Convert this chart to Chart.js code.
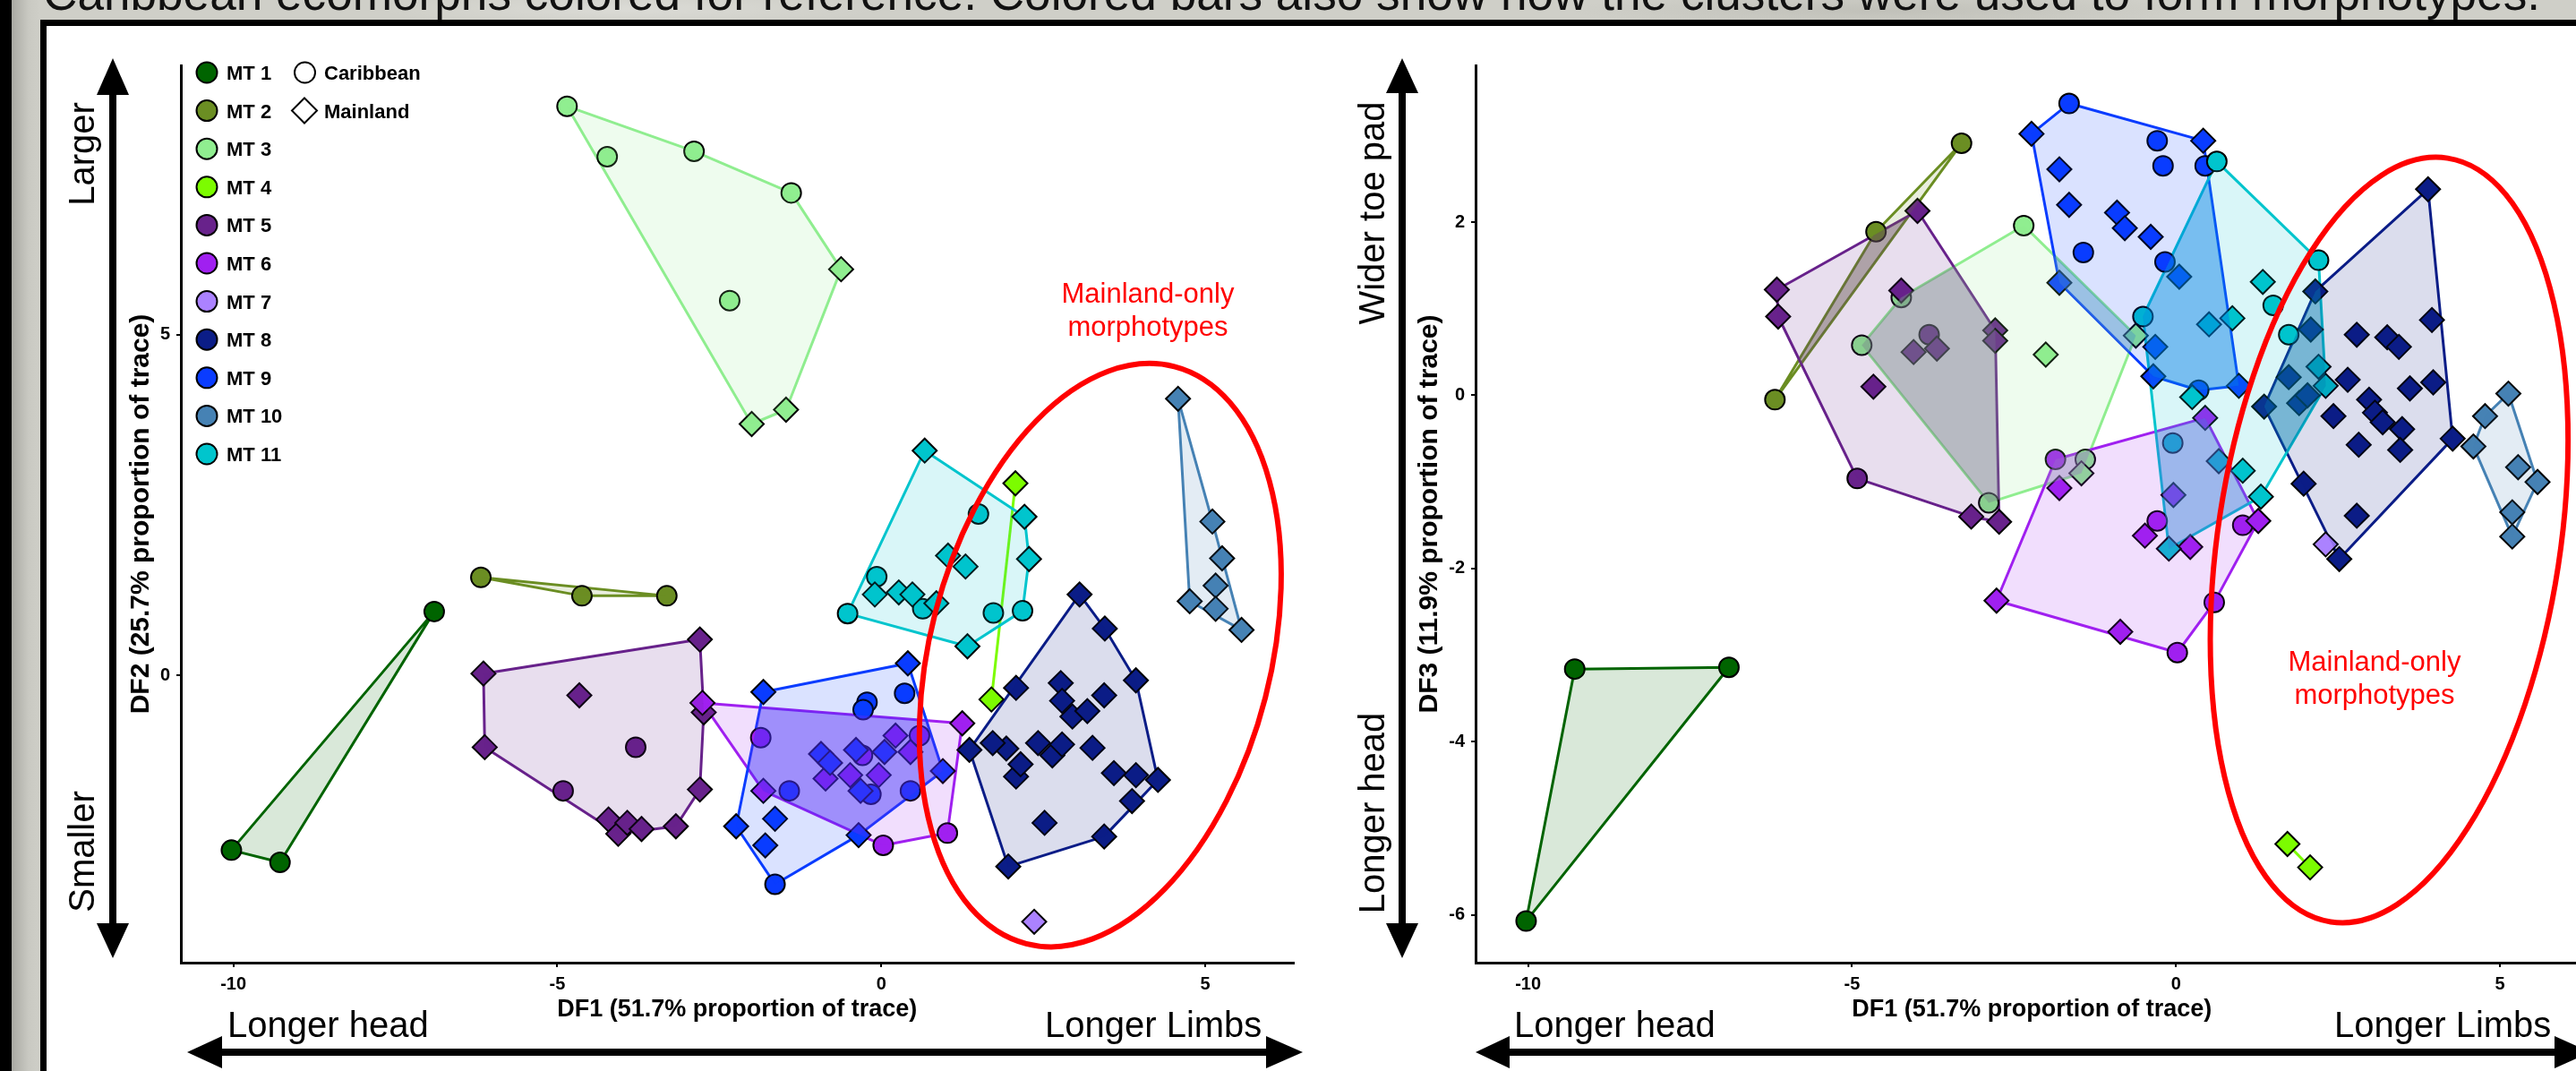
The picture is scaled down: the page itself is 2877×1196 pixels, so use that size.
<!DOCTYPE html>
<html>
<head>
<meta charset="utf-8">
<title>Morphotype discriminant function space</title>
<script src="https://cdn.jsdelivr.net/npm/chart.js@4.4.1/dist/chart.umd.min.js"></script>
<style>
  html, body { margin: 0; padding: 0; }
  body {
    width: 2877px; height: 1196px; overflow: hidden; position: relative;
    background:
      radial-gradient(ellipse 400px 30px at 700px 10px, rgba(255,255,255,0.25), rgba(255,255,255,0) 70%),
      radial-gradient(ellipse 500px 30px at 2100px 12px, rgba(90,90,80,0.12), rgba(90,90,80,0) 70%),
      linear-gradient(90deg, #000 0, #000 13px, #a9a9a3 13px, #c9c9c2 32px, #cfcfc8 45px);
    font-family: 'Liberation Sans', Arial, sans-serif;
  }
  #panel {
    position: absolute; left: 45px; top: 22px; width: 2850px; height: 1190px;
    background: #fff; border-left: 7px solid #000; border-top: 7px solid #000;
  }
  canvas { position: absolute; }
  #overlay { position: absolute; left: 0; top: 0; pointer-events: none; }
</style>
</head>
<body>
<div id="panel"></div>
<canvas id="df2Chart" width="1360" height="1120" style="left:100px;top:40px"></canvas>
<canvas id="df3Chart" width="1366" height="1120" style="left:1540px;top:40px"></canvas>

<svg id="overlay" width="2877" height="1196" xmlns="http://www.w3.org/2000/svg" font-family="'Liberation Sans', Arial, sans-serif">
  <text x="48" y="11" font-size="53" fill="#111" textLength="2789" lengthAdjust="spacingAndGlyphs">Caribbean ecomorphs colored for reference. Colored bars also show how the clusters were used to form morphotypes.</text>

  <!-- direction arrows -->
  <g fill="#000">
    <rect x="122" y="100" width="8" height="936"/>
    <polygon points="126,65 108,106 144,106"/>
    <polygon points="126,1070 108,1031 144,1031"/>
    <rect x="1562" y="100" width="8" height="936"/>
    <polygon points="1566,65 1548,104 1584,104"/>
    <polygon points="1566,1070 1548,1031 1584,1031"/>
    <rect x="244" y="1171" width="1174" height="8"/>
    <polygon points="209,1175 248,1157 248,1193"/>
    <polygon points="1455,1175 1414,1157 1414,1193"/>
    <rect x="1682" y="1171" width="1176" height="8"/>
    <polygon points="1648,1175 1686,1157 1686,1193"/>
    <polygon points="2893,1175 2853,1157 2853,1193"/>
  </g>
  <g font-size="40" fill="#000">
    <text x="254" y="1158">Longer head</text>
    <text x="1167" y="1158">Longer Limbs</text>
    <text x="1691" y="1158">Longer head</text>
    <text x="2607" y="1158">Longer Limbs</text>
    <text transform="translate(105,172) rotate(-90)" text-anchor="middle">Larger</text>
    <text transform="translate(105,951) rotate(-90)" text-anchor="middle">Smaller</text>
    <text transform="translate(1546,238) rotate(-90)" text-anchor="middle">Wider toe pad</text>
    <text transform="translate(1546,908) rotate(-90)" text-anchor="middle">Longer head</text>
  </g>
  <g font-size="31" fill="#ff0000" text-anchor="middle">
    <text x="1282" y="338">Mainland-only</text>
    <text x="1282" y="375">morphotypes</text>
    <text x="2652" y="749">Mainland-only</text>
    <text x="2652" y="786">morphotypes</text>
  </g>
  <g id="legend" font-size="22" font-weight="bold" fill="#000"></g>
</svg>

<script>
// ---- morphotype labels, colours and axis ticks ----
const mtNames  = ['MT 1','MT 2','MT 3','MT 4','MT 5','MT 6','MT 7','MT 8','MT 9','MT 10','MT 11'];
const mtColors = ['#006400','#6b8e23','#90ee90','#7cfc00','#68228b','#a020f0',
                  '#ab82ff','#0b1d87','#0a3cff','#4682b4','#00c5cd'];
const originNames = ['Caribbean', 'Mainland'];
const df1Ticks = [-10, -5, 0, 5];
const df2Ticks = [0, 5];
const df3Ticks = [-6, -4, -2, 0, 2];
const df1Limits = [-10.81, 6.36];
const df2Limits = [-4.21, 8.95];
const df3Limits = [-6.55, 3.81];

// ---- specimens in DF1 / DF2 space: [DF1, DF2, origin]  (C = Caribbean, M = Mainland) ----
const df2MT1 = [[-10.03,-2.56,'C'],[-9.28,-2.74,'C'],[-6.90,0.94,'C']];
const df2MT2 = [[-6.18,1.44,'C'],[-4.62,1.17,'C'],[-3.31,1.17,'C']];
const df2MT3 = [[-4.85,8.35,'C'],[-4.23,7.61,'C'],[-2.89,7.69,'C'],[-1.39,7.08,'C'],[-2.34,5.50,'C'],
                [-0.62,5.96,'M'],[-2.00,3.69,'M'],[-1.47,3.90,'M']];
const df2MT4 = [[2.07,2.82,'M'],[1.70,-0.35,'M']];
const df2MT5 = [[-3.79,-1.05,'C'],[-4.91,-1.69,'C'],
                [-6.14,0.03,'M'],[-6.12,-1.05,'M'],[-4.66,-0.29,'M'],[-2.80,0.53,'M'],[-2.74,-0.54,'M'],
                [-2.80,-1.67,'M'],[-4.21,-2.11,'M'],[-4.06,-2.32,'M'],[-3.92,-2.16,'M'],[-3.70,-2.25,'M'],
                [-3.17,-2.21,'M']];
const df2MT6 = [[0.03,-2.49,'C'],[0.59,-0.88,'C'],[1.02,-2.31,'C'],[-0.29,-1.17,'C'],[-1.86,-0.91,'C'],
                [-2.76,-0.40,'M'],[-0.86,-1.51,'M'],[1.25,-0.70,'M'],[-0.48,-1.46,'M'],[0.22,-0.88,'M'],
                [-1.82,-1.69,'M'],[0.45,-1.12,'M'],[-0.04,-1.46,'M']];
const df2MT7 = [[2.36,-3.61,'M']];
const df2MT8 = [[3.06,1.19,'M'],[3.45,0.69,'M'],[3.93,-0.07,'M'],[4.27,-1.53,'M'],[3.93,-1.46,'M'],
                [3.87,-1.84,'M'],[3.59,-1.43,'M'],[3.44,-2.36,'M'],[1.96,-2.80,'M'],[2.52,-2.16,'M'],
                [2.08,-1.48,'M'],[2.15,-1.30,'M'],[1.93,-1.07,'M'],[1.72,-0.99,'M'],[1.36,-1.09,'M'],
                [2.08,-0.18,'M'],[2.77,-0.11,'M'],[2.79,-0.37,'M'],[2.95,-0.60,'M'],[3.18,-0.52,'M'],
                [3.44,-0.29,'M'],[2.42,-0.99,'M'],[2.64,-1.17,'M'],[2.79,-1.01,'M'],[3.26,-1.06,'M']];
const df2MT9 = [[-1.64,-3.06,'C'],[0.36,-0.26,'C'],[-0.22,-0.39,'C'],[-0.28,-0.50,'C'],[-1.42,-1.69,'C'],
                [0.45,-1.69,'C'],[-0.16,-1.74,'C'],
                [-1.82,-0.24,'M'],[0.41,0.18,'M'],[0.95,-1.40,'M'],[-0.35,-2.34,'M'],[-2.24,-2.21,'M'],
                [-1.64,-2.10,'M'],[-1.79,-2.49,'M'],[-0.93,-1.15,'M'],[-0.79,-1.28,'M'],[-0.39,-1.09,'M'],
                [0.05,-1.12,'M'],[-0.32,-1.69,'M']];
const df2MT10 = [[4.58,4.06,'M'],[5.11,2.26,'M'],[5.26,1.72,'M'],[5.16,1.32,'M'],[4.76,1.09,'M'],
                 [5.16,0.98,'M'],[5.56,0.67,'M']];
const df2MT11 = [[1.50,2.37,'C'],[2.18,0.95,'C'],[1.73,0.92,'C'],[-0.52,0.91,'C'],[-0.07,1.45,'C'],[0.64,0.98,'C'],
                 [0.67,3.30,'M'],[2.21,2.33,'M'],[2.28,1.71,'M'],[1.33,0.43,'M'],[-0.10,1.19,'M'],
                 [0.27,1.22,'M'],[0.48,1.19,'M'],[0.85,1.06,'M'],[1.03,1.76,'M'],[1.30,1.60,'M']];

// ---- specimens in DF1 / DF3 space: [DF1, DF3, origin] ----
const df3MT1 = [[-10.03,-6.07,'C'],[-9.28,-3.16,'C'],[-6.90,-3.14,'C']];
const df3MT2 = [[-6.19,-0.05,'C'],[-4.63,1.89,'C'],[-3.31,2.91,'C']];
const df3MT3 = [[-4.85,0.58,'C'],[-4.24,1.13,'C'],[-2.89,-1.24,'C'],[-1.40,-0.74,'C'],[-2.35,1.96,'C'],
                [-0.62,0.69,'M'],[-2.01,0.47,'M'],[-1.46,-0.90,'M']];
const df3MT4 = [[1.72,-5.18,'M'],[2.07,-5.45,'M']];
const df3MT5 = [[-3.81,0.70,'C'],[-4.92,-0.96,'C'],
                [-6.16,1.22,'M'],[-6.14,0.91,'M'],[-4.67,0.10,'M'],[-2.79,0.75,'M'],[-2.79,0.63,'M'],
                [-2.73,-1.46,'M'],[-4.24,1.21,'M'],[-4.05,0.50,'M'],[-3.99,2.13,'M'],[-3.69,0.54,'M'],
                [-3.16,-1.40,'M']];
const df3MT6 = [[0.02,-2.97,'C'],[0.59,-2.39,'C'],[1.03,-1.50,'C'],[-0.29,-1.45,'C'],[-1.86,-0.74,'C'],
                [-2.77,-2.37,'M'],[-0.86,-2.73,'M'],[1.27,-1.45,'M'],[-0.48,-1.62,'M'],[0.22,-1.75,'M'],
                [-1.80,-1.07,'M'],[0.45,-0.26,'M'],[-0.04,-1.15,'M']];
const df3MT7 = [[2.31,-1.72,'M']];
const df3MT8 = [[3.89,2.38,'M'],[3.95,0.87,'M'],[2.79,0.70,'M'],[3.26,0.67,'M'],[3.44,0.56,'M'],
                [2.65,0.18,'M'],[3.61,0.08,'M'],[3.97,0.15,'M'],[2.98,-0.05,'M'],[2.43,-0.24,'M'],
                [3.07,-0.20,'M'],[3.19,-0.31,'M'],[3.49,-0.39,'M'],[4.27,-0.50,'M'],[2.82,-0.57,'M'],
                [3.46,-0.63,'M'],[1.97,-1.02,'M'],[2.79,-1.39,'M'],[2.52,-1.89,'M'],[1.36,-0.13,'M'],
                [1.74,0.21,'M'],[1.90,-0.09,'M'],[2.15,1.20,'M'],[2.08,0.76,'M'],[2.03,0.00,'M']];
const df3MT9 = [[-1.65,3.37,'C'],[0.35,0.06,'C'],[-0.20,2.65,'C'],[-0.29,2.94,'C'],[-1.43,1.65,'C'],
                [0.45,2.65,'C'],[-0.17,1.54,'C'],
                [-2.23,3.02,'M'],[0.42,2.94,'M'],[0.97,0.11,'M'],[-0.35,0.22,'M'],[-1.80,1.30,'M'],
                [-1.65,2.20,'M'],[-1.80,2.61,'M'],[-0.91,2.11,'M'],[-0.79,1.93,'M'],[-0.39,1.83,'M'],
                [0.05,1.37,'M'],[-0.32,0.56,'M']];
const df3MT10 = [[5.13,0.02,'M'],[4.77,-0.24,'M'],[4.59,-0.59,'M'],[5.28,-0.83,'M'],[5.58,-1.00,'M'],
                 [5.19,-1.35,'M'],[5.19,-1.63,'M']];
const df3MT11 = [[0.63,2.70,'C'],[2.20,1.56,'C'],[1.50,1.04,'C'],[1.74,0.70,'C'],[-0.51,0.91,'C'],[-0.05,-0.55,'C'],
                 [0.66,-0.76,'M'],[2.20,0.33,'M'],[2.31,0.11,'M'],[1.34,1.31,'M'],[-0.11,-1.77,'M'],
                 [0.25,-0.02,'M'],[0.51,0.82,'M'],[0.87,0.89,'M'],[1.03,-0.87,'M'],[1.31,-1.17,'M']];

const df2Groups = [df2MT1,df2MT2,df2MT3,df2MT4,df2MT5,df2MT6,df2MT7,df2MT8,df2MT9,df2MT10,df2MT11];
const df3Groups = [df3MT1,df3MT2,df3MT3,df3MT4,df3MT5,df3MT6,df3MT7,df3MT8,df3MT9,df3MT10,df3MT11];

// ---- highlighted mainland-only region, in axis units ----
const df2Ring = { cx: 3.38, cy: 0.30, rx: 2.63, ry: 4.37, tilt: 14.4 };
const df3Ring = { cx: 3.29, cy: -1.67, rx: 2.64, ry: 4.46, tilt: 8.7 };

// ---- styling ----
const FONT = "'Liberation Sans', Arial, sans-serif";
const HULL_ALPHA = 0.15;
const OVERLAP_ALPHA = 0.2;
const pointStyleFor = { C: 'circle', M: 'rectRot' };
const pointSizeFor  = { C: 11, M: 13.5 };

function withAlpha(hex, a) {
  const n = parseInt(hex.slice(1), 16);
  return `rgba(${(n >> 16) & 255},${(n >> 8) & 255},${n & 255},${a})`;
}

// Andrew's monotone chain convex hull (counter-clockwise)
function convexHull(points) {
  const p = points.map(q => [q[0], q[1]]).sort((a, b) => a[0] - b[0] || a[1] - b[1]);
  if (p.length < 3) return p;
  const cross = (o, a, b) => (a[0] - o[0]) * (b[1] - o[1]) - (a[1] - o[1]) * (b[0] - o[0]);
  const lower = [], upper = [];
  for (const q of p) {
    while (lower.length >= 2 && cross(lower[lower.length - 2], lower[lower.length - 1], q) <= 0) lower.pop();
    lower.push(q);
  }
  for (let i = p.length - 1; i >= 0; i--) {
    const q = p[i];
    while (upper.length >= 2 && cross(upper[upper.length - 2], upper[upper.length - 1], q) <= 0) upper.pop();
    upper.push(q);
  }
  lower.pop(); upper.pop();
  return lower.concat(upper);
}

// Sutherland–Hodgman clipping of one convex polygon by another
function clipConvex(subject, clip) {
  let out = subject.slice();
  for (let i = 0; i < clip.length && out.length; i++) {
    const a = clip[i], b = clip[(i + 1) % clip.length];
    const side = p => (b[0] - a[0]) * (p[1] - a[1]) - (b[1] - a[1]) * (p[0] - a[0]);
    const input = out;
    out = [];
    for (let j = 0; j < input.length; j++) {
      const cur = input[j], prev = input[(j + input.length - 1) % input.length];
      const sc = side(cur), sp = side(prev);
      const cross = () => {
        const t = sp / (sp - sc);
        return [prev[0] + t * (cur[0] - prev[0]), prev[1] + t * (cur[1] - prev[1])];
      };
      if (sc >= 0) { if (sp < 0) out.push(cross()); out.push(cur); }
      else if (sp >= 0) out.push(cross());
    }
  }
  return out;
}

function polygonArea(poly) {
  let s = 0;
  for (let i = 0; i < poly.length; i++) {
    const a = poly[i], b = poly[(i + 1) % poly.length];
    s += a[0] * b[1] - b[0] * a[1];
  }
  return Math.abs(s) / 2;
}

const closePath = ring => ring.concat([ring[0]]).map(q => ({ x: q[0], y: q[1] }));

function buildDatasets(groups) {
  const sets = [];
  const hulls = groups.map(convexHull);
  groups.forEach((pts, i) => {
    const mt = i + 1;
    const color = mtColors[i];
    const ring = hulls[i];
    if (ring.length >= 2) {
      const path = ring.length > 2 ? closePath(ring) : ring.map(q => ({ x: q[0], y: q[1] }));
      // hull outline (under the points)
      sets.push({ type: 'line', label: mtNames[i] + ' outline', data: path, borderColor: color,
        borderWidth: 3, borderJoinStyle: 'round', pointRadius: 0, fill: false, tension: 0,
        order: 300 - mt });
      // translucent hull fill (over the points)
      if (ring.length > 2) {
        sets.push({ type: 'line', label: mtNames[i] + ' area', data: path, borderColor: 'rgba(0,0,0,0)',
          borderWidth: 1, pointRadius: 0, fill: 'shape', backgroundColor: withAlpha(color, HULL_ALPHA),
          tension: 0, order: 100 - mt });
      }
    }
    sets.push({ type: 'scatter', label: mtNames[i], data: pts.map(q => ({ x: q[0], y: q[1] })),
      pointStyle: pts.map(q => pointStyleFor[q[2]]), pointRadius: pts.map(q => pointSizeFor[q[2]]),
      backgroundColor: color, borderColor: '#000', borderWidth: 2, order: 200 - mt });
  });
  // where two hulls overlap, the shared area reads darker
  for (let i = 0; i < hulls.length; i++) {
    for (let j = i + 1; j < hulls.length; j++) {
      if (hulls[i].length < 3 || hulls[j].length < 3) continue;
      const shared = clipConvex(hulls[i], hulls[j]);
      if (shared.length < 3 || polygonArea(shared) < 1e-4) continue;
      const path = closePath(shared);
      [i, j].forEach(k => sets.push({ type: 'line', label: mtNames[i] + ' / ' + mtNames[j], data: path,
        borderColor: 'rgba(0,0,0,0)', borderWidth: 1, pointRadius: 0, fill: 'shape',
        backgroundColor: withAlpha(mtColors[k], OVERLAP_ALPHA), tension: 0, order: 50 - k }));
    }
  }
  return sets;
}

const ringPlugin = {
  id: 'ringNote',
  afterDatasetsDraw(chart, args, opts) {
    const e = opts.ring;
    if (!e) return;
    const { x, y } = chart.scales;
    const cx = x.getPixelForValue(e.cx), cy = y.getPixelForValue(e.cy);
    const rx = Math.abs(x.getPixelForValue(e.cx + e.rx) - cx);
    const ry = Math.abs(y.getPixelForValue(e.cy + e.ry) - cy);
    const ctx = chart.ctx;
    ctx.save();
    ctx.beginPath();
    ctx.ellipse(cx, cy, rx, ry, e.tilt * Math.PI / 180, 0, Math.PI * 2);
    ctx.strokeStyle = '#ff0000';
    ctx.lineWidth = 6;
    ctx.stroke();
    ctx.restore();
  }
};

function axis(limits, ticks, title, titleSize, titlePadding, fitSize, horizontal) {
  return {
    type: 'linear', min: limits[0], max: limits[1],
    afterBuildTicks: s => { s.ticks = ticks.map(v => ({ value: v })); },
    afterFit: s => { if (horizontal) s.height = fitSize; else s.width = fitSize; },
    ticks: { color: '#000', font: { family: FONT, size: 20, weight: 'bold' }, padding: 7,
      maxRotation: 0, autoSkip: false, callback: v => String(v) },
    grid: { display: true, drawOnChartArea: false, drawTicks: true, tickLength: 5, color: '#000', lineWidth: 2 },
    border: { display: true, color: '#000', width: 3 },
    title: { display: true, text: title, color: '#000', font: { family: FONT, size: titleSize, weight: 'bold' },
      padding: titlePadding }
  };
}

function buildChart(id, groups, yLimits, yTicks, yTitle, yWidth, yTitlePad, ring) {
  return new Chart(document.getElementById(id), {
    type: 'scatter',
    data: { datasets: buildDatasets(groups) },
    plugins: [ringPlugin],
    options: {
      responsive: false, maintainAspectRatio: false, animation: false, events: [],
      layout: { padding: { top: 33, right: 13, left: 0, bottom: 0 } },
      scales: {
        x: axis(df1Limits, df1Ticks, 'DF1 (51.7% proportion of trace)', 27, { top: 0, bottom: 16 }, 85, true),
        y: axis(yLimits, yTicks, yTitle, 30, { top: yTitlePad, bottom: 0 }, yWidth, false)
      },
      plugins: { legend: { display: false }, tooltip: { enabled: false }, ringNote: { ring } }
    }
  });
}

buildChart('df2Chart', df2Groups, df2Limits, df2Ticks, 'DF2 (25.7% proportion of trace)', 102, 40, df2Ring);
buildChart('df3Chart', df3Groups, df3Limits, df3Ticks, 'DF3 (11.9% proportion of trace)', 108, 39, df3Ring);

// ---- legend (top-left of the DF2 panel) ----
(function drawLegend() {
  const ns = 'http://www.w3.org/2000/svg';
  const g = document.getElementById('legend');
  const add = (tag, attrs, text) => {
    const el = document.createElementNS(ns, tag);
    for (const k in attrs) el.setAttribute(k, attrs[k]);
    if (text) el.textContent = text;
    g.appendChild(el);
  };
  mtNames.forEach((name, i) => {
    const cy = 81 + 42.6 * i;
    add('circle', { cx: 231, cy, r: 11.5, fill: mtColors[i], stroke: '#000', 'stroke-width': 2 });
    add('text', { x: 253, y: cy + 8 }, name);
  });
  add('circle', { cx: 340.5, cy: 81, r: 11.5, fill: 'none', stroke: '#000', 'stroke-width': 2 });
  add('text', { x: 362, y: 89 }, originNames[0]);
  add('polygon', { points: '340,109.5 354,123.5 340,137.5 326,123.5', fill: 'none', stroke: '#000', 'stroke-width': 2 });
  add('text', { x: 362, y: 131.5 }, originNames[1]);
})();
</script>
</body>
</html>
